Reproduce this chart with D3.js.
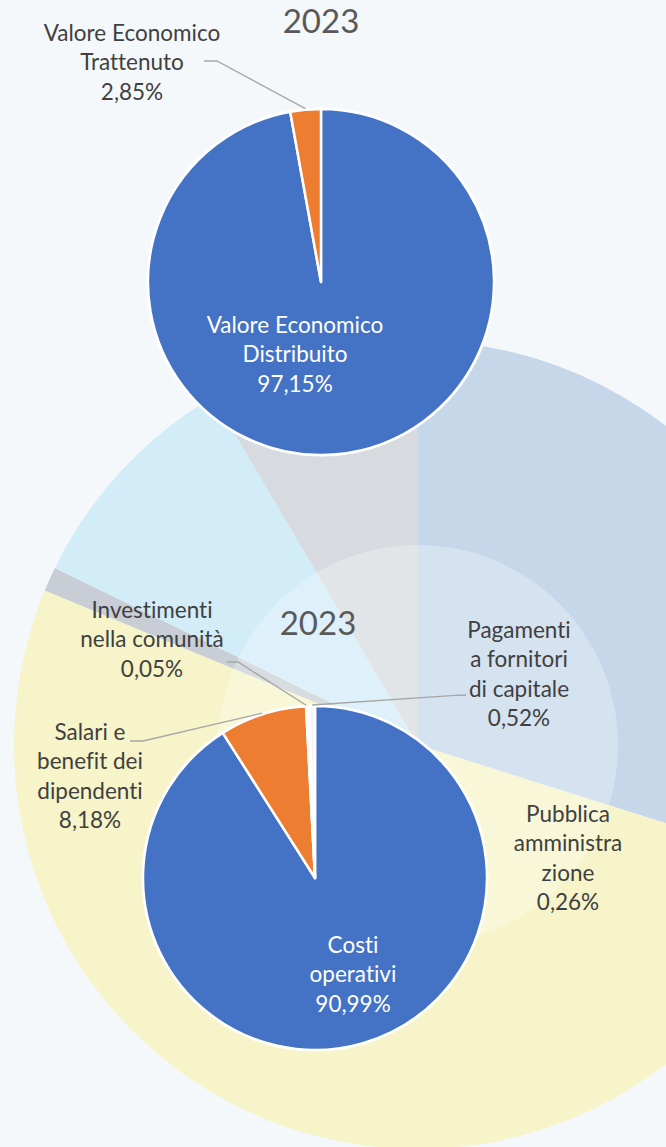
<!DOCTYPE html>
<html><head><meta charset="utf-8">
<script src="https://cdn.jsdelivr.net/npm/d3@7"></script>
<style>
body{margin:0;background:#f4f8fb;}
svg text{font-family:Lato,"Open Sans",sans-serif;font-variant-ligatures:none;font-feature-settings:"liga" 0,"clig" 0;}
</style>
</head><body>
<svg id="chart" width="666" height="1147"></svg>
<script>
// ---------- data ----------
const chartTitle = "2023";
const topCategories = ["Valore Economico Distribuito", "Valore Economico Trattenuto"];
const topValues = [97.15, 2.85];
const topValueLabels = ["97,15%", "2,85%"];
const bottomCategories = ["Costi operativi", "Salari e benefit dei dipendenti", "Investimenti nella comunità", "Pubblica amministrazione", "Pagamenti a fornitori di capitale"];
const bottomValues = [90.99, 8.18, 0.05, 0.26, 0.52];
const bottomValueLabels = ["90,99%", "8,18%", "0,05%", "0,26%", "0,52%"];
// decorative background wheel (degrees of each sector)
const bgSectors = ["blue", "yellow", "band", "cyan", "gray"];
const bgShares = [107.5, 185, 3.5, 33.5, 30.5];

// ---------- layout / style ----------
const W = 666, H = 1147;
const svg = d3.select("#chart");
svg.append("rect").attr("width", W).attr("height", H).attr("fill", "#f4f8fb");

const bgColor = d3.scaleOrdinal().domain(bgSectors)
  .range(["#c5d7e9", "#f6f4c8", "#c9cdd5", "#d2ecf8", "#d7dbe0"]);
const bgCenter = [418, 745];
const bgPie = d3.pie().sort(null).value(d => d)
  .startAngle(0).endAngle(2 * Math.PI);
const bgArc = d3.arc().innerRadius(0).outerRadius(404);
const bgG = svg.append("g").attr("transform", `translate(${bgCenter})`);
bgG.selectAll("path.bg").data(bgPie(bgShares)).join("path")
  .attr("class", "bg")
  .attr("d", bgArc)
  .attr("fill", (d, i) => bgColor(bgSectors[i]));
bgG.append("circle").attr("r", 200).attr("fill", "#ffffff").attr("opacity", 0.28);

const pieColor = ["#4472c4", "#ed7d31", "#a5a5a5", "#f4f4f4", "#f4f4f4"];

function drawPie(values, cx, cy, r) {
  const pie = d3.pie().sort(null).value(d => d);
  const arc = d3.arc().innerRadius(0).outerRadius(r);
  const g = svg.append("g").attr("transform", `translate(${cx},${cy})`);
  const arcs = pie(values);
  g.append("circle").attr("r", r + 1.5).attr("fill", "#ffffff");
  g.selectAll("path").data(arcs).join("path")
    .attr("d", arc)
    .attr("fill", (d, i) => pieColor[i])
    .attr("stroke", "#ffffff")
    .attr("stroke-width", 2.5)
    .attr("stroke-linejoin", "round");
  return { arcs, cx, cy, r };
}

function label(lines, x, y0, color, size) {
  const t = svg.append("text")
    .attr("text-anchor", "middle")
    .attr("fill", color)
    .attr("font-size", size);
  lines.forEach((l, i) => {
    t.append("tspan").attr("x", x).attr("y", y0 + i * 29.3).text(l);
  });
}

function edgePoint(p, d, extra) {
  const a = (d.startAngle + d.endAngle) / 2;
  const rr = p.r + extra;
  return [p.cx + rr * Math.sin(a), p.cy - rr * Math.cos(a)];
}

function leader(pts) {
  svg.append("path")
    .attr("d", d3.line()(pts))
    .attr("fill", "none")
    .attr("stroke", "#a6a6a6")
    .attr("stroke-width", 1.3);
}

const FS = 22.5;
const dark = "#404040";

// ---------- top pie ----------
svg.append("text").attr("x", 321).attr("y", 33).attr("text-anchor", "middle")
  .attr("fill", "#595959").attr("font-size", 33).text(chartTitle);
const p1 = drawPie(topValues, 321, 282, 173);
label(["Valore Economico", "Distribuito", topValueLabels[0]], 295, 333, "#ffffff", FS);
label(["Valore Economico", "Trattenuto", topValueLabels[1]], 132, 41, dark, FS);
leader([[204, 61], [217, 61], edgePoint(p1, p1.arcs[1], 1)]);

// ---------- bottom pie ----------
svg.append("text").attr("x", 318).attr("y", 635).attr("text-anchor", "middle")
  .attr("fill", "#595959").attr("font-size", 33).text(chartTitle);
const p2 = drawPie(bottomValues, 315, 878, 172);
label(["Costi", "operativi", bottomValueLabels[0]], 353, 953, "#ffffff", FS);
label(["Salari e", "benefit dei", "dipendenti", bottomValueLabels[1]], 90, 740, dark, FS);
label(["Investimenti", "nella comunità", bottomValueLabels[2]], 152, 618, dark, FS);
label(["Pubblica", "amministra", "zione", bottomValueLabels[3]], 568, 822, dark, FS);
label(["Pagamenti", "a fornitori", "di capitale", bottomValueLabels[4]], 519, 638, dark, FS);
leader([[130, 741], [143, 741], edgePoint(p2, p2.arcs[1], 1)]);
leader([[227, 662], [238, 662], edgePoint(p2, p2.arcs[2], 1)]);
leader([[466, 695], [455, 695.3], edgePoint(p2, p2.arcs[4], 1)]);
</script>
</body></html>
